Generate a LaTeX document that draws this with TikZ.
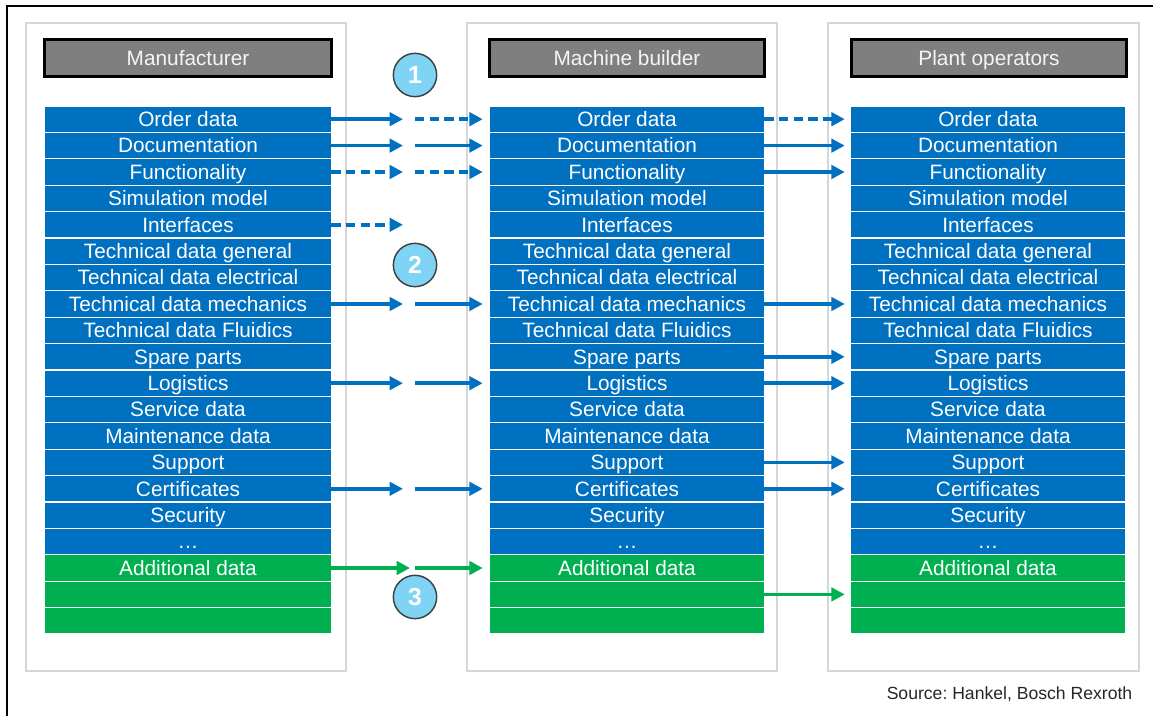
\documentclass[tikz,border=0pt]{standalone}
\usepackage{fontspec}
\setmainfont{Liberation Sans}
\usetikzlibrary{arrows.meta}
\definecolor{rowblue}{HTML}{0070C0}
\definecolor{rowgreen}{HTML}{00B050}
\definecolor{headgray}{HTML}{7F7F7F}
\definecolor{panelgray}{HTML}{D6D6D6}
\definecolor{bubblue}{HTML}{7FD4F6}
\newcommand{\rowfont}{\fontsize{15.6}{18}\selectfont}
\frenchspacing

\tikzset{
	panel/.style={draw=panelgray, line width=1.8pt, fill=white},
	head/.style={draw=black, line width=2pt, fill=headgray, text=white!96!black, minimum height=27.75pt, inner sep=0pt, text height=11pt, text depth=0pt, font=\rowfont},
	datarow/.style={minimum height=18.8pt, inner sep=0pt, text height=11pt, text depth=0pt, text=white, font=\rowfont},
	flow/.style={line width=2.6pt, -{Triangle[length=10pt,width=10pt]}},
	gap/.style={dash pattern=on 7pt off 4pt},
	bubble/.style={circle, fill=bubblue, draw=black!75, line width=1.1pt, minimum size=32.5pt, inner sep=0pt, text=white, font=\bfseries\fontsize{18.5}{20}\selectfont}
}

\begin{document}
\begin{tikzpicture}[x=0.75pt, y=-0.75pt]
	\useasboundingbox (0,0) rectangle (1153,716);
	\draw[line width=1.5pt] (1153,6) -- (7,6) -- (7,716);
	% the three columns
	\draw[panel] (26,23) rectangle (346,671);
	\draw[panel] (467,23) rectangle (777,671);
	\draw[panel] (828,23) rectangle (1139,671);
	\node[head, minimum width=215.25pt] (hm) at (188,58) {Manufacturer};
	\node[head, minimum width=206.25pt] (hb) at (627,58) {Machine builder};
	\node[head, minimum width=206.25pt] (hp) at (989,58) {Plant operators};
	\def\pitch{26.4}
	\foreach \t [count=\i] in {Order data, Documentation, Functionality, Simulation model, Interfaces,
		Technical data general, Technical data electrical, Technical data mechanics, Technical data Fluidics,
		Spare parts, Logistics, Service data, Maintenance data, Support, Certificates, Security, …,
		Additional data, {}, {}} {
		\ifnum\i<18 \def\c{rowblue}\else\def\c{rowgreen}\fi
		\node[datarow, fill=\c, minimum width=214.5pt] (m\i) at (188,{92.8+\pitch*\i}) {\t};
		\node[datarow, fill=\c, minimum width=205.5pt] (b\i) at (627,{92.8+\pitch*\i}) {\t};
		\node[datarow, fill=\c, minimum width=205.5pt] (p\i) at (988,{92.8+\pitch*\i}) {\t};
		\coordinate (l\i) at (410,{92.8+\pitch*\i});
		\coordinate (r\i) at (415,{92.8+\pitch*\i});
	}
	% manufacturer -> machine builder
	\begin{scope}[rowblue, shorten >=5.25pt]
		\draw[flow] (m1.east) -- (l1);
		\draw[flow, gap] (r1) -- (b1.west);
		\foreach \j in {2,8,11,15} {
			\draw[flow] (m\j.east) -- (l\j);
			\draw[flow] (r\j) -- (b\j.west);
		}
		\draw[flow, gap] (m3.east) -- (l3);
		\draw[flow, gap] (r3) -- (b3.west);
		\draw[flow, gap] (m5.east) -- (l5);
	\end{scope}
	\draw[flow, rowgreen] (m18.east) -- (l18);
	\draw[flow, rowgreen, shorten >=5.25pt] (r18) -- (b18.west);
	% machine builder -> plant operators
	\begin{scope}[rowblue, shorten >=4.5pt]
		\draw[flow, gap] (b1.east) -- (p1.west);
		\foreach \j in {2,3,8,10,11,14,15} {
			\draw[flow] (b\j.east) -- (p\j.west);
		}
	\end{scope}
	\draw[flow, rowgreen, shorten >=4.5pt] (b19.east) -- (p19.west);
	\node[bubble] (n1) at (415,75) {1};
	\node[bubble] (n2) at (415,265) {2};
	\node[bubble] (n3) at (415,597) {3};
	\node[anchor=east, text=black!85, font=\fontsize{13.2}{15}\selectfont] (src) at (1137,694) {Source: Hankel, Bosch Rexroth};
\end{tikzpicture}
\end{document}
